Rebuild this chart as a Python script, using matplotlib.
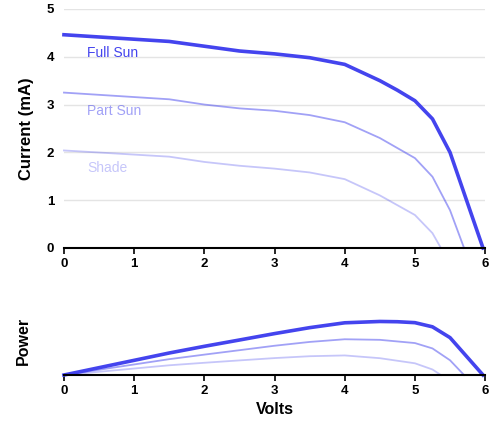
import numpy as np
import matplotlib
matplotlib.use('Agg')
from matplotlib import pyplot as plt

plt.rcParams['font.family'] = ['Liberation Sans', 'DejaVu Sans']

# I-V curves
volts_full = [0, 1.5, 2, 2.5, 3, 3.5, 4, 4.5, 4.75, 5, 5.25, 5.5, 5.97]
amps_full = [4.46, 4.32, 4.22, 4.12, 4.06, 3.98, 3.84, 3.5, 3.3, 3.08, 2.7, 2.0, 0]

volts_part = [0, 1.5, 2, 2.5, 3, 3.5, 4, 4.5, 5, 5.25, 5.5, 5.7]
amps_part = [3.25, 3.11, 3.0, 2.92, 2.87, 2.78, 2.63, 2.3, 1.88, 1.49, 0.79, 0]

volts_shade = [0, 1.5, 2, 2.5, 3, 3.5, 4, 4.5, 5, 5.25, 5.37]
amps_shade = [2.04, 1.91, 1.8, 1.72, 1.66, 1.58, 1.44, 1.1, 0.69, 0.31, 0]

names = ['Full Sun', 'Part Sun', 'Shade']
blue = '#4444ee'
alphas = [1.0, 0.5, 0.3]
widths = [2.6, 1.3, 1.3]
label_y = [4.08, 2.87, 1.67]

series = [(volts_full, amps_full), (volts_part, amps_part), (volts_shade, amps_shade)]

fig = plt.figure(figsize=(4.92, 4.25), dpi=100)
ax1 = fig.add_axes([0.130, 0.4165, 0.856, 0.5625])
ax2 = fig.add_axes([0.130, 0.1176, 0.856, 0.16])

for (v, a), name, al, lw, ly in zip(series, names, alphas, widths, label_y):
    v = np.array(v)
    a = np.array(a)
    ax1.plot(v, a, color=blue, alpha=al, lw=lw, clip_on=False)
    ax1.text(0.33, ly, name, color=blue, alpha=al, fontsize=10, va='center')
    ax2.plot(v, v * a, color=blue, alpha=al, lw=lw, clip_on=False)

for ax in (ax1, ax2):
    ax.set_xlim(0, 6)
    ax.set_xticks(range(7))
    for s in ['top', 'right', 'left']:
        ax.spines[s].set_visible(False)
    ax.spines['bottom'].set_linewidth(1.5)
    ax.tick_params(axis='x', length=4, width=1.2, labelsize=9.5)
    for lab in ax.get_xticklabels():
        lab.set_fontweight('bold')

ax1.set_ylim(0, 5)
ax1.set_yticks(range(6))
ax1.tick_params(axis='y', length=0, labelsize=9.5, pad=7)
for lab in ax1.get_yticklabels():
    lab.set_fontweight('bold')
ax1.grid(axis='y', color='#e4e4e4', lw=1)
ax1.set_axisbelow(True)
ax1.set_ylabel('Current (mA)', fontweight='bold', fontsize=12, labelpad=9)

ax2.set_ylim(0, 20)
ax2.set_yticks([])
ax2.set_ylabel('Power', fontweight='bold', fontsize=11.5, labelpad=24)
ax2.set_xlabel('Volts', fontweight='bold', fontsize=11.5, labelpad=3)

fig.savefig('out.png', dpi=100)
